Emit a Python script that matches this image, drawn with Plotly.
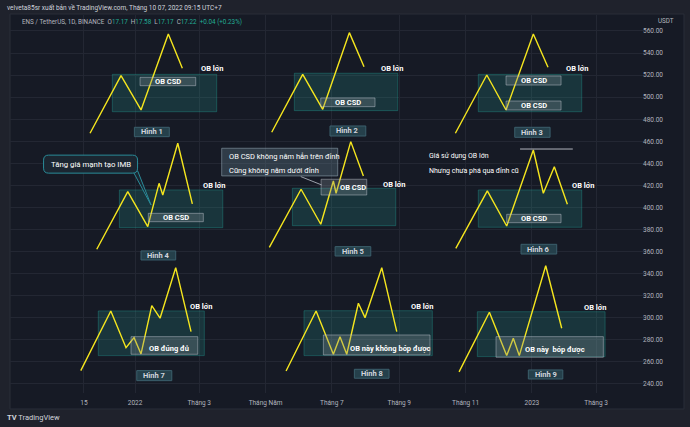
import pandas as pd
import plotly.graph_objects as go

# ---------------- data ----------------
BASE = "2022-01-01"          # day offsets below are counted from this date

tick_dates = ["2021-11-15", "2022-01-01", "2022-03-01", "2022-05-01", "2022-07-01",
              "2022-09-01", "2022-11-01", "2023-01-01", "2023-03-01"]
tick_text = ["15", "2022", "Tháng 3", "Tháng Năm", "Tháng 7", "Tháng 9", "Tháng 11", "2023", "Tháng 3"]
price_ticks = list(range(240, 561, 20))

# zig-zag price paths (day offset, price)
zig1_days = [-41.4, -12.9, 5.5, 30.6, 43.5]
zig1_prices = [467.3, 519.5, 488.4, 557.3, 526.2]
zig2_days = [125.7, 154.2, 172.6, 197.1, 210.6]
zig2_prices = [468.2, 520.7, 489.0, 558.5, 527.6]
zig3_days = [294.6, 323.5, 341.2, 366.3, 379.8]
zig3_prices = [467.3, 520.1, 488.4, 557.3, 527.1]
zig4_days = [-35.2, -6.7, 11.7, 22.1, 25.5, 39.3, 52.7]
zig4_prices = [362.1, 414.3, 382.6, 421.9, 411.3, 458.2, 403.2]
zig5_days = [123.5, 152.7, 170.8, 182.4, 184.9, 198.4, 210.0]
zig5_prices = [363.9, 416.5, 384.8, 424.0, 412.9, 459.7, 428.6]
zig6_days = [295.0, 324.0, 341.8, 366.3, 375.5, 385.6, 397.6]
zig6_prices = [363.0, 415.0, 383.2, 452.1, 412.9, 437.0, 402.9]
zig7_days = [-49.9, -22.3, -8.3, -0.9, 5.5, 15.4, 23.0, 37.4, 51.5]
zig7_prices = [252.1, 306.2, 272.9, 282.0, 267.2, 311.0, 299.6, 345.4, 287.4]
zig8_days = [138.9, 166.5, 182.4, 188.5, 194.7, 205.4, 211.5, 226.9, 240.7]
zig8_prices = [251.8, 306.2, 266.9, 282.9, 266.9, 313.2, 300.1, 345.4, 287.4]
zig9_days = [298.0, 325.9, 341.8, 347.9, 353.4, 377.7, 392.4]
zig9_prices = [250.9, 305.0, 265.7, 281.4, 265.7, 347.2, 290.5]

# big order-block zones ("OB lớn")
zone_days = [(-20.9, 75.1), (146.5, 241.6), (315.7, 410.8), (-14.4, 80.7), (144.7, 239.8),
             (315.7, 410.8), (-33.8, 63.7), (155.4, 273.4), (314.8, 432.3)]
zone_prices = [(486.8, 520.7), (487.8, 521.7), (486.8, 520.7), (381.7, 415.9), (383.5, 417.4),
               (382.1, 415.9), (265.7, 306.2), (265.7, 306.4), (264.8, 305.5)]
zone_label = "OB lớn"
zone_label_days = [70.5, 236.4, 406.5, 72.5, 238.2, 412.0, 61.0, 263.7, 422.8]
zone_label_prices = [525.6, 525.6, 525.6, 419.8, 421.0, 419.8, 310.1, 310.1, 309.2]

# "Hình n" captions
fig_names = ["Hình 1", "Hình 2", "Hình 3", "Hình 4", "Hình 5", "Hình 6", "Hình 7", "Hình 8", "Hình 9"]
name_days = [(-0.6, 31.5), (179.3, 212.2), (349.2, 381.7), (5.5, 37.4), (184.0, 216.8),
             (355.0, 387.8), (1.6, 33.8), (201.7, 233.6), (361.7, 393.4)]
name_prices = [(464.2, 472.7), (464.8, 473.9), (463.6, 472.7), (352.4, 360.6), (356.0, 364.5),
               (357.8, 366.6), (243.0, 252.1), (245.2, 253.3), (244.5, 252.7)]

# small OB labels (text, day range, price range, text day, text price)
ob_texts = ["OB CSD", "OB CSD", "OB CSD", "OB CSD", "OB CSD", "OB CSD", "OB CSD",
            "OB đúng đủ", "OB này không bóp được", "OB này  bóp được"]
ob_days = [(4.6, 55.8), (170.8, 220.7), (341.2, 391.8), (341.2, 391.8), (12.2, 62.8),
           (171.1, 213.1), (341.8, 391.8), (-3.7, 57.7), (173.2, 271.3), (332.0, 430.7)]
ob_prices = [(510.4, 518.0), (491.4, 499.3), (511.0, 519.2), (488.4, 496.5), (387.1, 394.7),
             (411.3, 425.6), (386.2, 393.8), (266.9, 282.9), (266.3, 284.4), (264.2, 282.9)]
ob_text_days = [30.2, 195.8, 366.5, 366.5, 37.5, 200.8, 366.8, 31.5, 234.5, 386.0]
ob_text_prices = [514.2, 495.4, 515.1, 492.5, 390.9, 418.3, 390.0, 272.4, 272.4, 270.8]

# callout "Tăng giá mạnh tạo IMB"
imb_text = "Tăng giá mạnh tạo IMB"
imb_center = (-40.9, 439.3)
imb_tail_days = [-2.0, 2.5, 14.7]
imb_tail_prices = [433.0, 433.0, 402.3]

# callout of Hình 5
csd_lines = ["OB CSD không nằm hẳn trên đỉnh", "Cũng không nằm dưới đỉnh"]
csd_box_days = (79.7, 186.4)
csd_box_prices = (428.6, 453.7)
csd_text_day = 84.9
csd_text_prices = [446.1, 433.1]
csd_link_days = (152.4, 171.7)
csd_link_prices = (428.0, 420.4)

# notes of Hình 6
note_lines = ["Giá sử dụng OB lớn", "Nhưng chưa phá qua đỉnh cũ"]
note_day = 268.8
note_prices = [446.7, 433.1]
top_line_days = (354.1, 402.6)
top_line_price = 453.0

x_range_days = (-115.0, 473.6)
y_range = (231.8, 574.5)

# ---------------- helpers ----------------
base = pd.Timestamp(BASE)


def d(n):
    return (base + pd.Timedelta(days=float(n))).strftime("%Y-%m-%d %H:%M:%S")


# ---------------- style ----------------
OUTER = "#1f222c"
PANE = "#161a25"
GRID = "#232733"
AXIS_TXT = "#b2b5be"
YELLOW = "#f5e61e"
FONT = "Roboto"

fig = go.Figure()

zigs = [(zig1_days, zig1_prices), (zig2_days, zig2_prices), (zig3_days, zig3_prices),
        (zig4_days, zig4_prices), (zig5_days, zig5_prices), (zig6_days, zig6_prices),
        (zig7_days, zig7_prices), (zig8_days, zig8_prices), (zig9_days, zig9_prices)]
for days, prices in zigs:
    fig.add_trace(go.Scatter(x=[d(v) for v in days], y=prices, mode="lines",
                             line=dict(color=YELLOW, width=1.4), hoverinfo="skip", showlegend=False))

# callout tail (IMB)
fig.add_trace(go.Scatter(x=[d(v) for v in imb_tail_days] + [d(imb_tail_days[0])],
                         y=imb_tail_prices + [imb_tail_prices[0]], mode="lines", fill="toself",
                         fillcolor="#1b2631", line=dict(color="#2a8c99", width=1),
                         hoverinfo="skip", showlegend=False))

shapes = []
# chart frame (pane + axes)
shapes.append(dict(type="rect", xref="paper", yref="paper", x0=0, x1=1.0531, y0=-0.0423, y1=1.0026,
                   fillcolor=PANE, line=dict(color="#2a2e39", width=1), layer="below"))

for (a, b), (p0, p1) in zip(zone_days, zone_prices):
    shapes.append(dict(type="rect", xref="x", yref="y", x0=d(a), x1=d(b), y0=p0, y1=p1,
                       fillcolor="rgba(38,166,154,0.20)", line=dict(color="rgba(38,166,154,0.35)", width=1),
                       layer="between"))

for (a, b), (p0, p1) in zip(ob_days, ob_prices):
    shapes.append(dict(type="rect", xref="x", yref="y", x0=d(a), x1=d(b), y0=p0, y1=p1,
                       fillcolor="rgba(130,140,150,0.30)", line=dict(color="rgba(200,205,212,0.45)", width=1),
                       layer="above"))

for (a, b), (p0, p1) in zip(name_days, name_prices):
    shapes.append(dict(type="rect", xref="x", yref="y", x0=d(a), x1=d(b), y0=p0, y1=p1,
                       fillcolor="#25404b", line=dict(color="#3b5f6c", width=1), layer="above"))

# Hình 5 callout box + link
shapes.append(dict(type="rect", xref="x", yref="y", x0=d(csd_box_days[0]), x1=d(csd_box_days[1]),
                   y0=csd_box_prices[0], y1=csd_box_prices[1],
                   fillcolor="rgba(110,140,155,0.30)", line=dict(color="rgba(150,170,180,0.55)", width=1),
                   layer="above"))
shapes.append(dict(type="line", xref="x", yref="y", x0=d(csd_link_days[0]), x1=d(csd_link_days[1]),
                   y0=csd_link_prices[0], y1=csd_link_prices[1],
                   line=dict(color="#9aa0aa", width=1), layer="above"))
# Hình 6 top line
shapes.append(dict(type="line", xref="x", yref="y", x0=d(top_line_days[0]), x1=d(top_line_days[1]),
                   y0=top_line_price, y1=top_line_price, line=dict(color="#b2b5be", width=1), layer="above"))

# rounded IMB callout (pixel sized, anchored on its centre)
W, H, R = 47, 9, 5
path = (f"M {-W+R},{-H} L {W-R},{-H} Q {W},{-H} {W},{-H+R} L {W},{H-R} Q {W},{H} {W-R},{H} "
        f"L {-W+R},{H} Q {-W},{H} {-W},{H-R} L {-W},{-H+R} Q {-W},{-H} {-W+R},{-H} Z")
shapes.append(dict(type="path", xref="x", yref="y", xsizemode="pixel", ysizemode="pixel",
                   xanchor=d(imb_center[0]), yanchor=imb_center[1], path=path,
                   fillcolor="#1b2631", line=dict(color="#2a8c99", width=1), layer="above"))

annotations = []
for xd, yp in zip(zone_label_days, zone_label_prices):
    annotations.append(dict(x=d(xd), y=yp, text=f"<b>{zone_label}</b>", showarrow=False,
                            font=dict(family=FONT, size=7.5, color="#ffffff")))
for name, (a, b), (p0, p1) in zip(fig_names, name_days, name_prices):
    annotations.append(dict(x=d((a + b) / 2), y=(p0 + p1) / 2, text=f"<b>{name}</b>", showarrow=False,
                            font=dict(family=FONT, size=7.5, color="#d1d4dc")))
for t, xd, yp in zip(ob_texts, ob_text_days, ob_text_prices):
    annotations.append(dict(x=d(xd), y=yp, text=f"<b>{t}</b>", showarrow=False,
                            font=dict(family=FONT, size=7.5, color="#ffffff")))
annotations.append(dict(x=d(imb_center[0]), y=imb_center[1], text=imb_text, showarrow=False,
                        font=dict(family=FONT, size=7.8, color="#ffffff")))
for line, yp in zip(csd_lines, csd_text_prices):
    annotations.append(dict(x=d(csd_text_day), y=yp, text=line, showarrow=False, xanchor="left",
                            font=dict(family=FONT, size=7.5, color="#ffffff")))
for line, yp in zip(note_lines, note_prices):
    annotations.append(dict(x=d(note_day), y=yp, text=line, showarrow=False, xanchor="left",
                            font=dict(family=FONT, size=7, color="#ffffff")))

# header / legend / footer (paper coordinates)
annotations.append(dict(xref="paper", yref="paper", x=-0.0078, y=1.0185, xanchor="left", yanchor="middle",
                        text="velveta85sr xuất bản về TradingView.com, Tháng 10 07, 2022 09:15 UTC+7",
                        showarrow=False, font=dict(family=FONT, size=6.5, color="#d1d4dc")))
G = "#22ab94"
legend = ("ENS / TetherUS, 1D, BINANCE  O<span style='color:%s'>17.17</span>  H<span style='color:%s'>17.58</span>"
          "  L<span style='color:%s'>17.17</span>  C<span style='color:%s'>17.22</span>"
          "  <span style='color:%s'>+0.04 (+0.23%%)</span>") % (G, G, G, G, G)
annotations.append(dict(xref="paper", yref="paper", x=0.0156, y=0.9815, xanchor="left", yanchor="middle",
                        text=legend, showarrow=False, font=dict(family=FONT, size=6.3, color="#b2b5be")))
annotations.append(dict(xref="paper", yref="paper", x=1.0094, y=0.985, xanchor="left", yanchor="middle",
                        text="USDT", showarrow=False, font=dict(family=FONT, size=6.3, color=AXIS_TXT)))
annotations.append(dict(xref="paper", yref="paper", x=-0.0078, y=-0.066, xanchor="left", yanchor="middle",
                        text="<b>TV</b> TradingView", showarrow=False,
                        font=dict(family=FONT, size=7.5, color="#d1d4dc")))

fig.update_layout(
    width=690, height=427,
    margin=dict(l=10, r=40, t=15, b=34),
    paper_bgcolor=OUTER, plot_bgcolor=PANE,
    shapes=shapes, annotations=annotations,
    xaxis=dict(type="date", range=[d(x_range_days[0]), d(x_range_days[1])],
               tickvals=tick_dates, ticktext=tick_text, showgrid=True, gridcolor=GRID, gridwidth=1,
               zeroline=False, showline=False, ticks="", ticklabelstandoff=4,
               tickfont=dict(family=FONT, size=6.5, color=AXIS_TXT)),
    yaxis=dict(side="right", range=list(y_range), tickvals=price_ticks, tickformat=".2f",
               showgrid=True, gridcolor=GRID, gridwidth=1, zeroline=False, showline=False, ticks="",
               ticklabelstandoff=-8,
               tickfont=dict(family=FONT, size=6.5, color=AXIS_TXT)),
    showlegend=False,
)

fig.write_html("out.html", config={"displayModeBar": False},
               post_script="document.body.style.margin='0px';document.body.style.overflow='hidden';")
